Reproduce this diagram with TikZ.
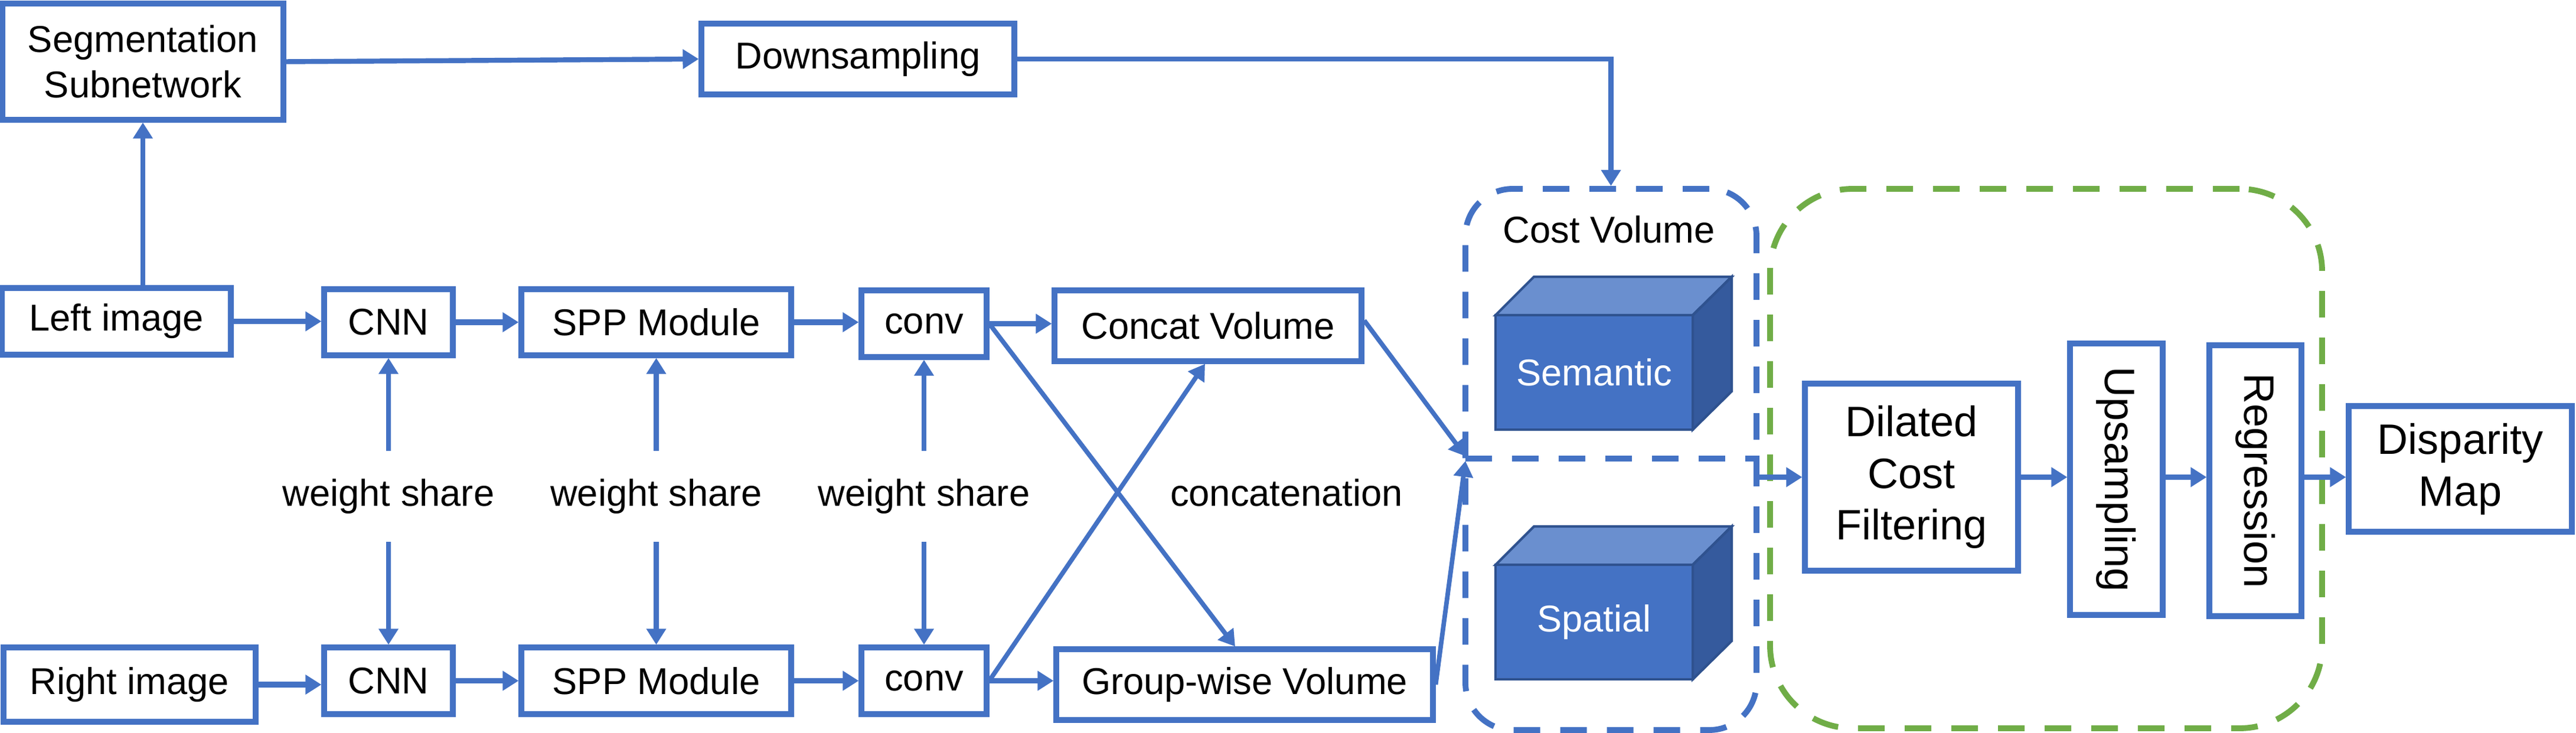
\documentclass[tikz,border=0pt]{standalone}
\usepackage{fontspec}
\setmainfont{Liberation Sans}
\usepackage{graphicx}
\usepackage{tikz}
\usetikzlibrary{arrows.meta,shapes,positioning}
\usepackage{xcolor}
\definecolor{offblue}{RGB}{68,114,196}
\definecolor{offgreen}{RGB}{112,173,71}
\definecolor{cubetop}{RGB}{106,143,207}
\definecolor{cubeside}{RGB}{53,90,157}
\definecolor{cubeedge}{RGB}{47,82,143}
\tikzstyle{arrow} = [line width=2.8pt,-{Triangle[length=0.27cm,width=0.32cm]},color=offblue]
\tikzstyle{longarrow} = [arrow, line width=2.4pt]
\tikzstyle{crossline} = [arrow, line width=2.2pt]
\tikzstyle{block} = [rectangle, minimum width=2.5cm, minimum height=1.1cm, text centered, align=center, inner sep=0pt, draw=offblue, fill=white, line width=2.6pt]
\tikzstyle{bigblock} = [block, font=\fontsize{20.5}{25}\selectfont]
\tikzstyle{dashbox} = [rectangle, line width=2.8pt, dash pattern=on 0.45cm off 0.34cm, inner sep=0pt]
\tikzstyle{face} = [draw=cubeedge, line width=1.2pt, line join=miter]

\begin{document}
\begin{tikzpicture}[font=\fontsize{18}{22}\selectfont]
\useasboundingbox (0,0) rectangle (43.63,-12.42);

% Dashed groups
\node[dashbox, draw=offblue, rounded corners=0.8cm, minimum width=4.93cm, minimum height=9.17cm] (cost) at (27.285,-7.785) {};
\node[dashbox, draw=offgreen, rounded corners=1.4cm, minimum width=9.35cm, minimum height=9.14cm] (filt) at (34.655,-7.77) {};
\coordinate (cvmid) at (24.82,-7.77);
\draw[offblue, line width=2.8pt, dash pattern=on 0.45cm off 0.34cm] (cvmid) -- (cvmid -| cost.east);
\node (costlbl) at (27.25,-3.89) {Cost Volume};

% Cubes
\filldraw[face, fill=cubetop] (25.33,-5.34) -- (25.98,-4.69) -- (29.33,-4.69) -- (28.67,-5.34) -- cycle;
\filldraw[face, fill=cubeside] (28.67,-5.34) -- (29.33,-4.69) -- (29.33,-6.63) -- (28.67,-7.28) -- cycle;
\filldraw[face, fill=offblue] (25.33,-5.34) rectangle (28.67,-7.28);
\node[text=white] (sem) at (27.0,-6.31) {Semantic};
\filldraw[face, fill=cubetop] (25.33,-9.57) -- (25.98,-8.92) -- (29.33,-8.92) -- (28.67,-9.57) -- cycle;
\filldraw[face, fill=cubeside] (28.67,-9.57) -- (29.33,-8.92) -- (29.33,-10.86) -- (28.67,-11.51) -- cycle;
\filldraw[face, fill=offblue] (25.33,-9.57) rectangle (28.67,-11.51);
\node[text=white] (spa) at (27.0,-10.54) {Spatial};

% Top row
\node[block, minimum width=4.76cm, minimum height=1.97cm] (seg) at (2.42,-1.045) {Segmentation\\Subnetwork};
\node[block, minimum width=5.3cm, minimum height=1.2cm] (down) at (14.53,-1.0) {Downsampling};

% Left branch
\node[block, minimum width=3.88cm, minimum height=1.13cm] (left) at (1.97,-5.445) {Left image};
\node[block, minimum width=2.18cm, minimum height=1.12cm] (cnnL) at (6.58,-5.46) {CNN};
\node[block, minimum width=4.57cm, minimum height=1.12cm] (sppL) at (11.115,-5.46) {SPP Module};
\node[block, minimum width=2.12cm, minimum height=1.13cm] (convL) at (15.65,-5.485) {conv};
\node[block, minimum width=5.2cm, minimum height=1.2cm] (concat) at (20.46,-5.52) {Concat Volume};

% Right branch
\node[block, minimum width=4.27cm, minimum height=1.26cm] (right) at (2.195,-11.6) {Right image};
\node[block, minimum width=2.18cm, minimum height=1.13cm] (cnnR) at (6.58,-11.535) {CNN};
\node[block, minimum width=4.57cm, minimum height=1.13cm] (sppR) at (11.115,-11.535) {SPP Module};
\node[block, minimum width=2.12cm, minimum height=1.13cm] (convR) at (15.65,-11.535) {conv};
\node[block, minimum width=6.38cm, minimum height=1.2cm] (group) at (21.08,-11.6) {Group-wise Volume};

% Labels
\node[minimum height=1.53cm, inner sep=0pt] (ws1) at (6.58,-8.41) {weight share};
\node[minimum height=1.53cm, inner sep=0pt] (ws2) at (11.115,-8.41) {weight share};
\node[minimum height=1.53cm, inner sep=0pt] (ws3) at (15.65,-8.41) {weight share};
\node (cat) at (21.79,-8.35) {concatenation};

% Filtering stage
\node[bigblock, minimum width=3.61cm, minimum height=3.17cm] (dil) at (32.375,-8.085) {Dilated\\Cost\\Filtering};
\node[bigblock, minimum width=1.57cm, minimum height=4.6cm] (ups) at (35.845,-8.12) {\rotatebox{-90}{Upsampling}};
\node[bigblock, minimum width=1.56cm, minimum height=4.59cm] (reg) at (38.2,-8.145) {\rotatebox{-90}{Regression}};
\node[bigblock, minimum width=3.78cm, minimum height=2.13cm] (disp) at (41.67,-7.945) {Disparity\\Map};

% Connectors
\draw[longarrow] (left.north -| seg.south) -- (seg.south);
\draw[longarrow] (seg.east) -- (down.west);
\draw[longarrow] (down.east) -| (cost.north);

\draw[arrow] (left.east) -- (left.east -| cnnL.west);
\draw[arrow] (cnnL.east) -- (sppL.west);
\draw[arrow] (sppL.east) -- (sppL.east -| convL.west);
\draw[arrow] (convL.east) -- (convL.east -| concat.west);
\draw[arrow] (right.east) -- (right.east -| cnnR.west);
\draw[arrow] (cnnR.east) -- (sppR.west);
\draw[arrow] (sppR.east) -- (convR.west);
\draw[arrow] (convR.east) -- (convR.east -| group.west);

\draw[longarrow] (ws1.north) -- (cnnL.south);
\draw[longarrow] (ws1.south) -- (cnnR.north);
\draw[longarrow] (ws2.north) -- (sppL.south);
\draw[longarrow] (ws2.south) -- (sppR.north);
\draw[longarrow] (ws3.north) -- (convL.south);
\draw[longarrow] (ws3.south) -- (convR.north);

\draw[crossline] (convL.east) -- ([xshift=-0.16cm]group.north);
\draw[crossline] (convR.east) -- ([xshift=-0.05cm]concat.south);
\draw[crossline] ([yshift=0.09cm]concat.east) -- ([yshift=0.04cm]cvmid);
\draw[crossline] (group.east) -- ([yshift=-0.04cm]cvmid);

\draw[arrow] (cost.east |- dil.west) -- (dil.west);
\draw[arrow] (dil.east) -- (dil.east -| ups.west);
\draw[arrow] (ups.east |- dil.east) -- (dil.east -| reg.west);
\draw[arrow] (reg.east |- dil.east) -- (dil.east -| disp.west);
\end{tikzpicture}
\end{document}
